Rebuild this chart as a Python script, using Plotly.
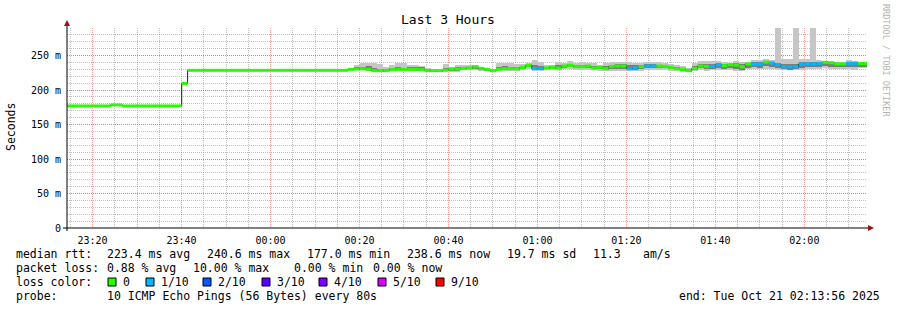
import datetime as dt
import plotly.graph_objects as go

# ---------------- data ----------------
TITLE = "Last 3 Hours"
Y_LABEL = "Seconds"
RANGE_START = "2025-10-20 23:14:15"
RANGE_END = "2025-10-21 02:14:05"
FIRST_STEP = dt.datetime(2025, 10, 20, 23, 13, 22)
STEP_SECONDS = 80

y_tick_vals = [0, 50, 100, 150, 200, 250]
y_tick_text = ["0", "50 m", "100 m", "150 m", "200 m", "250 m"]

# median rtt per 80 s step (ms)
median_rtt = ([177.0] * 8 + [178.5] * 2 + [177.0] * 10 + [209.5] + [228.6] * 27 + [
    230.0, 230.5, 231.0, 230.0, 228.2, 228.2, 228.2, 230.0, 230.0, 230.0,   # 48-57
    230.0, 230.0, 229.5, 228.2, 228.2, 228.2, 228.8, 230.5, 230.5, 231.5,   # 58-67
    232.0, 233.9, 231.5, 230.1, 228.1, 230.1, 231.0, 231.0, 231.0, 233.0,   # 68-77
    235.9, 231.5, 231.5, 232.0, 233.0, 232.0, 234.9, 235.9, 234.4, 233.9,   # 78-87
    234.9, 232.0, 233.0, 231.0, 234.4, 234.9, 234.9, 231.0, 232.0, 233.9,   # 88-97
    234.9, 234.9, 234.9, 234.4, 233.0, 231.0, 230.1, 228.1, 231.5, 234.9,   # 98-107
    234.4, 234.4, 236.8, 235.4, 236.8, 236.3, 233.9, 237.8, 237.8, 237.8,   # 108-117
    240.6, 239.2, 236.8, 233.9, 233.4, 233.9, 237.8, 238.0, 238.0, 238.7,   # 118-127
    240.2, 239.7, 238.0, 238.0, 238.9, 238.9, 238.6, 238.6])                # 128-135

# lost pings (out of 10) per step
loss_tenths = ([0] * 79 + [1, 1] + [0] * 14 + [1, 1, 0, 1, 1] + [0] * 9 + [1, 1]
               + [0] * 5 + [1, 1, 0] + [1] * 9 + [0] * 4 + [1, 1, 0, 0])

# smoke (ping spread) for steps 48..135
SMOKE_FIRST = 48
smoke_max = [
    232.0, 235.9, 239.7, 239.7, 238.7, 237.8, 233.0, 236.8, 239.7, 238.7,
    236.8, 235.9, 234.9, 232.0, 229.8, 229.8, 237.8, 233.0, 235.9, 236.8,
    236.8, 236.8, 233.0, 231.5, 229.8, 238.7, 238.7, 238.7, 237.8, 237.8,
    239.7, 243.6, 240.6, 235.9, 236.8, 240.6, 239.7, 242.7, 239.7, 240.6,
    239.7, 238.7, 236.8, 238.7, 240.6, 240.6, 240.6, 240.6, 239.7, 239.7,
    240.6, 240.6, 240.6, 238.7, 237.8, 235.9, 234.9, 232.0, 238.7, 241.7,
    241.7, 242.7, 241.7, 240.6, 239.7, 242.0, 241.0, 241.0, 243.0, 243.0,
    244.6, 243.0, 310.0, 244.6, 244.6, 310.0, 244.6, 244.6, 310.0, 243.6,
    242.0, 241.0, 241.0, 240.0, 243.6, 242.0, 241.0, 240.0]
smoke_min = [
    228.5, 228.8, 229.0, 228.0, 226.8, 226.8, 226.8, 228.0, 228.0, 228.0,
    227.5, 227.0, 227.0, 226.8, 226.8, 226.8, 227.0, 226.5, 226.5, 229.0,
    229.5, 229.0, 228.0, 227.5, 226.5, 227.5, 228.0, 228.0, 228.0, 229.0,
    230.0, 228.0, 228.0, 228.5, 229.0, 228.5, 230.0, 231.0, 229.5, 229.0,
    229.5, 228.5, 227.5, 227.0, 228.0, 227.0, 227.0, 227.0, 227.5, 228.0,
    229.0, 229.0, 229.0, 229.0, 228.0, 227.0, 226.5, 226.0, 227.5, 229.0,
    228.0, 228.5, 229.5, 228.5, 228.5, 228.0, 227.5, 230.0, 230.5, 230.0,
    231.0, 230.5, 229.5, 228.5, 228.5, 229.0, 229.5, 230.0, 230.0, 230.5,
    231.5, 231.0, 230.0, 230.0, 231.0, 229.5, 232.0, 232.0]
smoke_mid_hi = [
    231.0, 233.0, 234.0, 234.5, 232.0, 231.0, 230.0, 232.5, 233.0, 232.5,
    233.5, 233.5, 233.0, 230.0, 229.5, 229.5, 232.0, 232.5, 233.5, 234.0,
    234.0, 235.0, 232.5, 231.0, 229.5, 234.0, 234.5, 234.0, 234.0, 235.0,
    237.5, 236.0, 235.0, 234.0, 235.0, 236.0, 237.0, 238.5, 237.0, 237.0,
    237.0, 235.5, 235.0, 235.0, 237.0, 238.0, 238.0, 236.0, 236.0, 236.5,
    237.5, 237.5, 237.0, 236.5, 235.5, 233.5, 232.5, 230.0, 235.0, 238.0,
    238.0, 238.0, 239.0, 238.0, 238.5, 239.0, 238.0, 239.5, 240.0, 240.0,
    242.0, 241.0, 239.5, 238.0, 238.0, 238.0, 240.0, 240.0, 240.0, 240.5,
    241.0, 240.5, 239.5, 239.5, 240.5, 240.5, 240.0, 239.5]
smoke_mid_lo = [
    229.3, 229.5, 230.0, 229.0, 227.3, 227.3, 227.3, 229.0, 229.0, 229.0,
    228.5, 228.3, 228.0, 227.3, 227.3, 227.3, 227.8, 228.0, 228.0, 230.0,
    230.5, 231.0, 229.5, 228.5, 227.0, 228.5, 229.5, 229.5, 229.5, 231.0,
    233.0, 229.5, 229.5, 230.0, 231.0, 230.0, 232.0, 233.0, 232.0, 231.5,
    232.0, 230.0, 230.5, 229.0, 231.0, 231.0, 231.0, 229.0, 229.5, 231.0,
    232.0, 232.0, 232.0, 231.5, 230.5, 229.0, 228.0, 227.0, 229.5, 232.0,
    230.0, 230.0, 232.0, 231.0, 231.5, 231.0, 229.5, 232.5, 233.0, 232.5,
    234.5, 234.0, 232.0, 230.0, 229.5, 230.0, 232.5, 233.0, 233.0, 233.5,
    234.5, 234.0, 233.0, 233.0, 234.0, 233.5, 234.0, 234.0]

loss_labels = ["0", "1/10", "2/10", "3/10", "4/10", "5/10", "9/10"]
loss_colors = ["#26ff00", "#00b8ff", "#0059ff", "#5e00ff", "#7e00ff", "#dd00ff", "#ff0000"]

rtt_stats = ["223.4 ms avg", "240.6 ms max", "177.0 ms min", "238.6 ms now",
             "19.7 ms sd", "11.3", "am/s"]
loss_stats = ["0.88 % avg", "10.00 % max", "0.00 % min", "0.00 % now"]
probe_text = "10 ICMP Echo Pings (56 Bytes) every 80s"
end_text = "end: Tue Oct 21 02:13:56 2025"
watermark = "RRDTOOL / TOBI OETIKER"

# ---------------- figure ----------------
FONT = "DejaVu Sans Mono"
step = dt.timedelta(seconds=STEP_SECONDS)
n = len(median_rtt)
starts = [FIRST_STEP + k * step for k in range(n)]
ends = [s + step for s in starts]
centers = [s + step / 2 for s in starts]

fig = go.Figure()

sc = centers[SMOKE_FIRST:]
fig.add_trace(go.Bar(x=sc, y=[h - l for h, l in zip(smoke_max, smoke_min)], base=smoke_min,
                     width=STEP_SECONDS * 1000, marker=dict(color="#c6c6c6", line=dict(width=0)),
                     hoverinfo="skip"))
fig.add_trace(go.Bar(x=sc, y=[h - l for h, l in zip(smoke_mid_hi, smoke_mid_lo)], base=smoke_mid_lo,
                     width=STEP_SECONDS * 1000, marker=dict(color="#7c7c7c", line=dict(width=0)),
                     hoverinfo="skip"))

# thin black step line (median transitions)
fig.add_trace(go.Scatter(x=starts + [ends[-1]], y=median_rtt + [median_rtt[-1]], mode="lines",
                         line=dict(color="#1a1a1a", width=1, shape="hv"), hoverinfo="skip"))

level_of = {0: 0, 1: 1, 2: 2, 3: 3, 4: 4, 5: 5, 9: 6, 10: 6}
for lvl in sorted(set(loss_tenths)):
    xs, ys = [], []
    for k in range(n):
        if loss_tenths[k] == lvl:
            xs += [starts[k], ends[k], None]
            ys += [median_rtt[k], median_rtt[k], None]
    fig.add_trace(go.Scatter(x=xs, y=ys, mode="lines",
                             line=dict(color=loss_colors[level_of[lvl]], width=3),
                             hoverinfo="skip"))

L, R, T, B = 67, 867, 28, 228
W, H = R - L, B - T


def px(x):
    return (x - L) / W


def py(y):
    return (B - y) / H


major_grid = "rgba(255,0,0,0.35)"
minor_grid = "rgba(120,120,120,0.45)"
DASH = "1px,1px"

fig.update_layout(
    width=897, height=310,
    margin=dict(l=L, r=897 - R, t=T, b=310 - B),
    paper_bgcolor="white", plot_bgcolor="white",
    showlegend=False, barmode="overlay", bargap=0,
    xaxis=dict(type="date", range=[RANGE_START, RANGE_END],
               tickmode="linear", tick0="2025-10-20 23:20:00", dtick=20 * 60 * 1000,
               tickformat="%H:%M", showgrid=True, gridcolor=major_grid, griddash=DASH, gridwidth=1,
               minor=dict(tickmode="linear", tick0="2025-10-20 23:20:00", dtick=5 * 60 * 1000,
                          showgrid=True, gridcolor=minor_grid, griddash=DASH, ticklen=0),
               zeroline=False, showline=False, ticks="outside", ticklen=3,
               tickcolor="rgba(0,0,0,0)",
               tickfont=dict(family=FONT, size=10, color="#000")),
    yaxis=dict(range=[0, 290], tickmode="array", tickvals=y_tick_vals, ticktext=y_tick_text,
               showgrid=True, gridcolor=major_grid, griddash=DASH, gridwidth=1,
               minor=dict(tickmode="linear", tick0=0, dtick=10, showgrid=True,
                          gridcolor=minor_grid, griddash=DASH, ticklen=0),
               zeroline=False, showline=False, ticks="outside", ticklen=3,
               tickcolor="rgba(0,0,0,0)",
               tickfont=dict(family=FONT, size=10, color="#000")),
)

shapes = [
    dict(type="line", xref="paper", yref="paper", x0=px(63), x1=px(869), y0=py(228), y1=py(228),
         line=dict(color="#000", width=1)),
    dict(type="path", xref="paper", yref="paper",
         path=f"M {px(868)} {py(225)} L {px(874)} {py(228)} L {px(868)} {py(231)} Z",
         fillcolor="#a01010", line=dict(color="#a01010", width=0)),
    dict(type="line", xref="paper", yref="paper", x0=px(67), x1=px(67), y0=py(231), y1=py(24),
         line=dict(color="#000", width=1)),
    dict(type="path", xref="paper", yref="paper",
         path=f"M {px(64)} {py(26)} L {px(67)} {py(20)} L {px(70)} {py(26)} Z",
         fillcolor="#a01010", line=dict(color="#a01010", width=0)),
]

ann = []


def text(x, y, s, anchor="left", size=11.5, color="#000", angle=0):
    ann.append(dict(x=px(x), y=py(y), xref="paper", yref="paper", text=s, showarrow=False,
                    xanchor=anchor, yanchor="middle", borderpad=0, borderwidth=0,
                    textangle=angle, font=dict(family=FONT, size=size, color=color)))


text(448, 19, TITLE, anchor="center", size=13)
text(11, 127, Y_LABEL, anchor="center", size=11.5, angle=-90)
text(886, 60, watermark, anchor="center", size=8.5, color="#b4b4b4", angle=90)

text(16, 254, "median rtt:")
for xpos, s in zip([107, 207, 307, 407, 507, 593, 643], rtt_stats):
    text(xpos, 254, s)
text(16, 268, "packet loss:")
for xpos, s in zip([107, 193, 294, 373], loss_stats):
    text(xpos, 268, s)
text(16, 282, "loss color:")
for xpos, lab, col in zip([108, 146, 203, 262, 319, 378, 436], loss_labels, loss_colors):
    shapes.append(dict(type="rect", xref="paper", yref="paper", x0=px(xpos), x1=px(xpos + 8),
                       y0=py(278), y1=py(286), fillcolor=col, line=dict(color="#000", width=1)))
    text(xpos + 15, 282, lab)
text(16, 296, "probe:")
text(107, 296, probe_text)
text(880, 296, end_text, anchor="right")

fig.update_layout(shapes=shapes, annotations=ann)
fig.write_html("out.html")
